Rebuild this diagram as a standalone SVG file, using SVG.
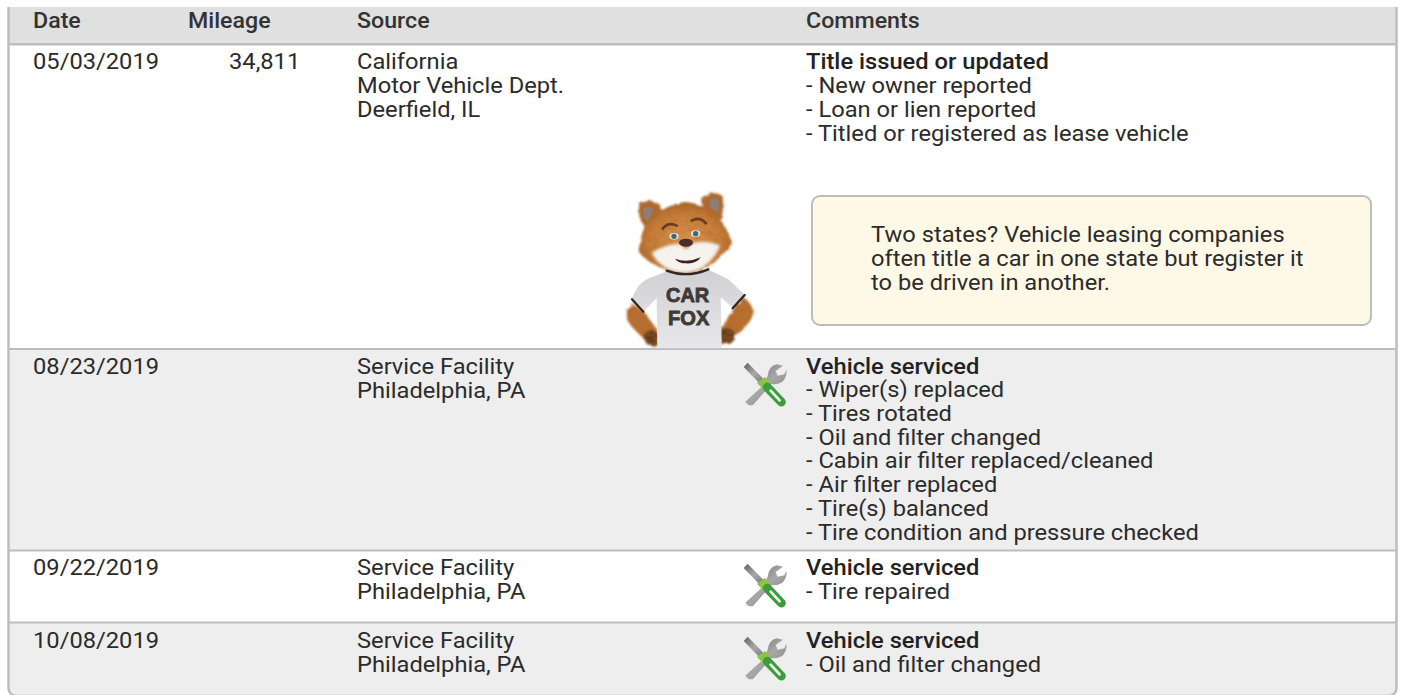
<svg xmlns="http://www.w3.org/2000/svg" width="1404" height="695" viewBox="0 0 1404 695">
<style>
text{font-family:Roboto,"Liberation Sans",sans-serif;font-size:22px;fill:#2b2b2b}
.h{font-weight:500;fill:#333;font-size:21.6px}
.b{font-weight:500;fill:#222}
.line{fill:#bdbdbd}
.fx{font-family:"Liberation Sans",Arial,sans-serif;font-size:60px;font-weight:700;fill:#3f3a36;stroke:#3f3a36;stroke-width:2.500}
</style>
<defs>
<linearGradient id="steel" x1="0" y1="0" x2="1" y2="1"><stop offset="0" stop-color="#5f5f5f"/><stop offset=".5" stop-color="#a8a8a8"/><stop offset="1" stop-color="#777"/></linearGradient>
<radialGradient id="fur" cx=".5" cy=".55" r=".62"><stop offset="0" stop-color="#e09a55"/><stop offset=".65" stop-color="#cc7d38"/><stop offset="1" stop-color="#96511f"/></radialGradient>
<linearGradient id="tee" x1="0" y1="0" x2="0" y2="1"><stop offset="0" stop-color="#d0d0d2"/><stop offset="1" stop-color="#e8e8ea"/></linearGradient>
<filter id="furry" x="-10%" y="-10%" width="120%" height="120%"><feTurbulence type="fractalNoise" baseFrequency=".07" numOctaves="2" seed="3" result="n"/><feDisplacementMap in="SourceGraphic" in2="n" scale="12" result="d"/><feTurbulence type="fractalNoise" baseFrequency=".05 .22" numOctaves="2" seed="8"/><feColorMatrix values="0 0 0 0 .35 0 0 0 0 .15 0 0 0 0 .03 0 0 0 1.6 -.55"/><feComposite in2="d" operator="in" result="t"/><feMerge result="m"><feMergeNode in="d"/><feMergeNode in="t"/></feMerge><feGaussianBlur in="m" stdDeviation="2.400"/></filter>
<filter id="soft"><feGaussianBlur stdDeviation="1.800"/></filter>
<filter id="muzzle" x="-20%" y="-20%" width="140%" height="140%"><feGaussianBlur stdDeviation="5"/></filter>
<g id="tools" filter="url(#soft)">
<path d="M86 90 L98 62 Q100 35 125 28 L144 32 L122 48 L128 62 L148 58 L154 44 Q157 65 142 80 Q125 90 110 87 L54 150 Q40 154 31 140 Z" fill="url(#steel)"/>
<path d="M26 36 L38 23 L88 74 L76 88 Z" fill="url(#steel)"/>
<path d="M66 84 L90 66 L106 84 L84 102 Z" fill="#8cc63f"/>
<path d="M97 97 L139 141" stroke="#3c9c3c" stroke-width="27" stroke-linecap="round"/>
<path d="M107 107 L134 136" stroke="#eef6ee" stroke-width="8" stroke-linecap="round"/>
</g>
</defs>
<rect width="1404" height="695" fill="#fff"/>
<g id="table">
<rect x="8" y="7" width="1389" height="37" fill="#e0e0e0"/>
<rect x="8" y="350" width="1389" height="200" fill="#eee"/>
<path d="M8 623H1397V688a8 8 0 0 1-8 8H16a8 8 0 0 1-8-8Z" fill="#eee"/>
<rect class="line" x="8" y="43" width="1389" height="2.500"/>
<rect class="line" x="8" y="348" width="1389" height="2"/>
<rect class="line" x="8" y="549.500" width="1389" height="2"/>
<rect class="line" x="8" y="621.500" width="1389" height="2"/>
<path d="M8.500 7V688a8 8 0 0 0 8 8H1388.500a8 8 0 0 0 8-8V7" fill="none" stroke="#bdbdbd" stroke-width="2.500"/>
</g>
<g id="header">
<g transform="translate(33 27.500) scale(1.074 1)"><text class="h">Date</text></g>
<g transform="translate(188 27.500) scale(1.074 1)"><text class="h">Mileage</text></g>
<g transform="translate(357 27.500) scale(1.074 1)"><text class="h">Source</text></g>
<g transform="translate(806 27.500) scale(1.074 1)"><text class="h">Comments</text></g>
</g>
<g id="row1">
<g transform="translate(33 0) scale(1.077 1)"><text y="69.500">05/03/2019</text></g>
<g transform="translate(229 0) scale(1.077 1)"><text y="69.500">34,811</text></g>
<g transform="translate(357 0) scale(1.077 1)"><text y="69.500">California</text><text y="93.500">Motor Vehicle Dept.</text><text y="117.500">Deerfield, IL</text></g>
<g transform="translate(806 0) scale(1.077 1)"><text class="b" y="69.500">Title issued or updated</text><text y="93.500">- New owner reported</text><text y="117.500">- Loan or lien reported</text><text y="141.300">- Titled or registered as lease vehicle</text></g>
</g>
<g id="note">
<rect x="812" y="196" width="559" height="129" rx="8" fill="#fef9e6" stroke="#bdbdbd" stroke-width="2"/>
<g transform="translate(871 0) scale(1.077 1)"><text y="242.500">Two states? Vehicle leasing companies</text><text y="266.500">often title a car in one state but register it</text><text y="290.500">to be driven in another.</text></g>
</g>
<g id="fox" transform="translate(600 180) scale(.33333)">
<g filter="url(#furry)">
<path d="M100 372 L132 395 L172 450 L178 498 L150 496 Q125 470 105 450 Q72 420 80 392Z" fill="#bd6f30"/>
<path d="M430 352 L400 388 L362 450 L360 495 Q400 480 415 460 Q462 420 460 392 Q450 365 430 352Z" fill="#bd6f30"/>
<ellipse cx="155" cy="474" rx="22" ry="24" fill="#5a2f18"/>
<ellipse cx="382" cy="468" rx="22" ry="24" fill="#5a2f18"/>
<path d="M118 72 Q150 52 180 75 L188 100 L140 150 Q110 110 118 72Z" fill="#b06a32"/>
<path d="M303 55 Q335 30 367 46 Q374 85 362 120 L312 85Z" fill="#b06a32"/>
<path d="M116 212 Q125 150 140 130 Q190 72 260 66 Q320 75 350 105 Q385 150 396 190 Q380 215 365 225 Q345 255 280 280 L220 275 Q170 260 150 245 Q125 230 116 212Z" fill="url(#fur)"/>
</g>
<g filter="url(#soft)"><path d="M130 85 Q150 75 160 90 L142 125 Q125 110 130 85Z" fill="#8f7d74"/>
<path d="M330 58 Q350 50 358 62 L354 100 L330 80Z" fill="#8f7d74"/></g>
<path d="M155 218 Q200 190 240 192 L258 208 L278 190 Q320 178 360 196 Q345 240 300 268 Q250 288 205 268 Q170 250 155 218Z" fill="#f6f2ee" filter="url(#muzzle)"/>
<path d="M205 272 Q260 295 322 268 L385 298 L435 345 L400 385 L362 352 L365 505 L172 505 L170 355 L130 395 L95 358 Q110 315 140 298Z" fill="url(#tee)" filter="url(#soft)"/>
<g fill="none" stroke="#2e2826" stroke-linecap="round" filter="url(#soft)">
<path d="M200 272 Q260 295 325 268" stroke-width="7"/>
<path d="M96 358 L130 395" stroke-width="7"/>
<path d="M434 345 L398 385" stroke-width="7"/>
<path d="M188 146 Q205 124 230 137" stroke="#6b3a1c" stroke-width="8"/>
<path d="M275 122 Q298 108 318 130" stroke="#6b3a1c" stroke-width="8"/>
</g>
<g filter="url(#soft)">
<path d="M225 236 Q262 250 302 232 Q290 252 258 250 Q235 250 225 236Z" fill="#3a2420"/>
<ellipse cx="222" cy="169" rx="14" ry="10" fill="#e8e2da"/><ellipse cx="287" cy="161" rx="14" ry="10" fill="#e8e2da"/>
<circle cx="222" cy="169" r="8" fill="#3f6876"/><circle cx="287" cy="161" r="8" fill="#3f6876"/>
<ellipse cx="258" cy="188" rx="21" ry="12" fill="#4a2f2a"/>
</g>
<text class="fx" x="263" y="366" text-anchor="middle" textLength="130" lengthAdjust="spacingAndGlyphs">CAR</text>
<text class="fx" x="266" y="435" text-anchor="middle" textLength="124" lengthAdjust="spacingAndGlyphs">FOX</text>
</g>
<g id="row2">
<g transform="translate(33 0) scale(1.077 1)"><text y="374.200">08/23/2019</text></g>
<g transform="translate(357 0) scale(1.077 1)"><text y="374.200">Service Facility</text><text y="397.700">Philadelphia, PA</text></g>
<use href="#tools" transform="translate(735 355) scale(.33333)"/>
<g transform="translate(806 0) scale(1.077 1)"><text class="b" y="374">Vehicle serviced</text><text y="397.500">- Wiper(s) replaced</text><text y="421">- Tires rotated</text><text y="444.700">- Oil and filter changed</text><text y="468.500">- Cabin air filter replaced/cleaned</text><text y="492.300">- Air filter replaced</text><text y="516">- Tire(s) balanced</text><text y="540.500">- Tire condition and pressure checked</text></g>
</g>
<g id="row3">
<g transform="translate(33 0) scale(1.077 1)"><text y="575.200">09/22/2019</text></g>
<g transform="translate(357 0) scale(1.077 1)"><text y="575.200">Service Facility</text><text y="598.700">Philadelphia, PA</text></g>
<use href="#tools" transform="translate(735 556) scale(.33333)"/>
<g transform="translate(806 0) scale(1.077 1)"><text class="b" y="575.200">Vehicle serviced</text><text y="598.700">- Tire repaired</text></g>
</g>
<g id="row4">
<g transform="translate(33 0) scale(1.077 1)"><text y="648.200">10/08/2019</text></g>
<g transform="translate(357 0) scale(1.077 1)"><text y="648.200">Service Facility</text><text y="671.700">Philadelphia, PA</text></g>
<use href="#tools" transform="translate(735 629) scale(.33333)"/>
<g transform="translate(806 0) scale(1.077 1)"><text class="b" y="648.200">Vehicle serviced</text><text y="671.700">- Oil and filter changed</text></g>
</g>
</svg>
